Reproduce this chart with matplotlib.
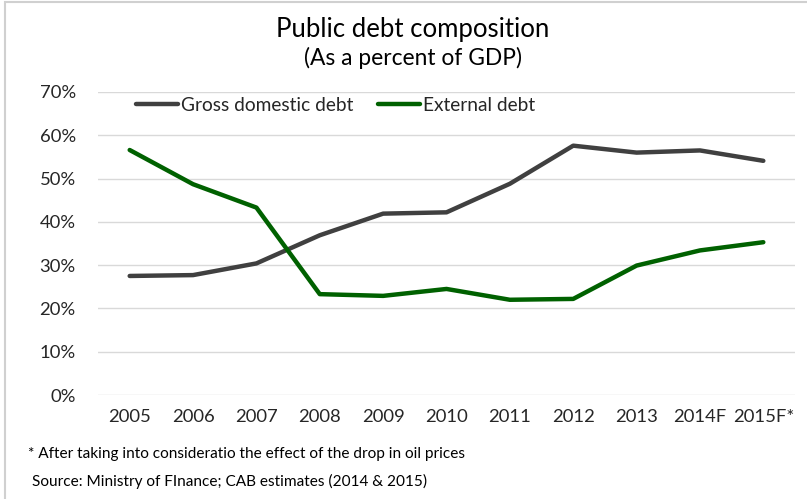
import matplotlib.pyplot as plt
from matplotlib.patches import Rectangle
from matplotlib.ticker import PercentFormatter

years = ['2005', '2006', '2007', '2008', '2009', '2010', '2011', '2012',
         '2013', '2014F', '2015F*']
gross_domestic = [27.5, 27.7, 30.4, 36.9, 41.9, 42.2, 48.8, 57.6, 56.0, 56.5, 54.1]
external = [56.6, 48.7, 43.3, 23.3, 22.9, 24.5, 22.0, 22.2, 29.9, 33.4, 35.3]

GREY = '#404040'
GREEN = '#006100'
TXT = '#262626'

plt.rcParams['font.family'] = ['Lato', 'DejaVu Sans']

fig = plt.figure(figsize=(8.07, 4.99), dpi=100)
ax = fig.add_axes([98 / 807, 1 - 395 / 499, 697 / 807, 303 / 499])

x = range(len(years))
ax.plot(x, gross_domestic, color=GREY, lw=3.2, label='Gross domestic debt',
        solid_capstyle='round', solid_joinstyle='round')
ax.plot(x, external, color=GREEN, lw=3.2, label='External debt',
        solid_capstyle='round', solid_joinstyle='round')

ax.set_xlim(-0.5, len(years) - 0.5)
ax.set_ylim(0, 70)
ax.set_yticks(range(0, 71, 10))
ax.yaxis.set_major_formatter(PercentFormatter(decimals=0))
ax.set_xticks(list(x))
ax.set_xticklabels(years, fontsize=13.3, color=TXT)
for t in ax.get_yticklabels():
    t.set_fontsize(13.3)
    t.set_color(TXT)
ax.tick_params(length=0, pad=10)
ax.tick_params(axis='y', pad=16)
ax.grid(axis='y', color='#D9D9D9', lw=1)
ax.set_axisbelow(True)
for s in ax.spines.values():
    s.set_visible(False)

leg = ax.legend(loc='upper left', bbox_to_anchor=(0.03, 1.04), ncol=2,
                frameon=False, fontsize=13.8, handlelength=2.2,
                handletextpad=0.15, columnspacing=1.25)
for t in leg.get_texts():
    t.set_color(TXT)

fig.text(0.512, 1 - 30 / 499, 'Public debt composition', ha='center',
         va='center', fontsize=18.5, color='black')
fig.text(0.512, 1 - 58 / 499, '(As a percent of GDP)', ha='center',
         va='center', fontsize=16.4, color='black')
fig.text(28 / 807, 1 - 454 / 499,
         '* After taking into consideratio the effect of the drop in oil prices',
         ha='left', va='center', fontsize=11.1, color='black')
fig.text(32 / 807, 1 - 481 / 499,
         'Source: Ministry of FInance; CAB estimates (2014 & 2015)',
         ha='left', va='center', fontsize=11.1, color='black')

fig.patches.append(Rectangle((5 / 807, -0.05), 1.0, 1.05 - 2 / 499,
                             transform=fig.transFigure, fill=False,
                             edgecolor='#D0D0D0', lw=1.5))

fig.savefig('out.png', dpi=100)
